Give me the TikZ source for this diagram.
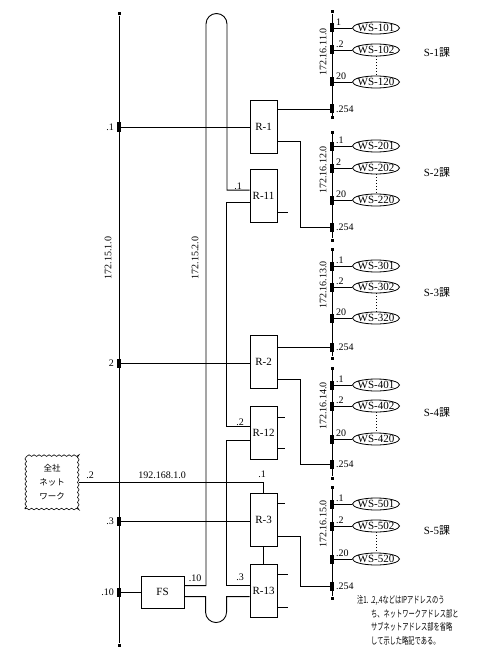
\documentclass[tikz,border=0pt]{standalone}
\usepackage{fontspec}
\setmainfont{Liberation Serif}
\newfontfamily\cjk{Noto Sans CJK JP}
\newfontfamily\cjknarrow[FakeStretch=0.65]{Noto Sans CJK JP}
\usetikzlibrary{decorations.pathmorphing,calc,shapes.geometric}
\begin{document}
\begin{tikzpicture}[x=1pt,y=1pt,
  line/.style={line width=0.9pt},
  router/.style={draw,line width=0.9pt,minimum width=27pt,minimum height=53pt,inner sep=0pt,font=\fontsize{11}{11}\selectfont},
  ws/.style={draw,ellipse,line width=0.8pt,minimum width=47pt,minimum height=12pt,inner xsep=-4pt,inner ysep=0pt,font=\fontsize{11}{11}\selectfont},
  tapm/.style={fill=black,draw=none,minimum width=3.5pt,minimum height=9pt,inner sep=0pt},
  endm/.style={fill=black,draw=none,minimum size=3pt,inner sep=0pt},
  lbl/.style={font=\fontsize{10}{10}\selectfont,inner sep=1pt},
  notetext/.style={anchor=west,inner sep=0pt,font=\cjknarrow\fontsize{9.6}{10}\selectfont},
]
\useasboundingbox (0,0) rectangle (500,-658);

% main bus 172.15.1.0
\node[endm] (mtop) at (119,-14) {};
\node[endm] (mbot) at (119,-645) {};
\draw[line] (mtop) -- (mbot);
\node[tapm] (m1) at (119,-127) {};
\node[tapm] (m2) at (119,-363) {};
\node[tapm] (m3) at (119,-521) {};
\node[tapm] (m10) at (119,-592) {};
\node[lbl,anchor=east] (lm1) at (115,-127) {.1};
\node[lbl,anchor=east] (lm2) at (115,-363) {2};
\node[lbl,anchor=east] (lm3) at (115,-521) {.3};
\node[lbl,anchor=east] (lm10) at (115,-592) {.10};
\node[lbl,rotate=90] (lmain) at (108,-258) {172.15.1.0};
\node[lbl,rotate=90] (lloop) at (195,-258) {172.15.2.0};

% routers and FS
\node[router] (R1) at (263.5,-126.5) {R-1};
\node[router] (R11) at (263.5,-196) {R-11};
\node[router] (R2) at (263.5,-362) {R-2};
\node[router] (R12) at (263.5,-433) {R-12};
\node[router] (R3) at (263.5,-520) {R-3};
\node[router] (R13) at (263.5,-590.5) {R-13};
\node[draw,line width=0.9pt,minimum width=43pt,minimum height=32pt,inner sep=0pt,font=\fontsize{11}{11}\selectfont] (FS) at (162.5,-592) {FS};
\node[draw,line width=0.6pt,decorate,decoration={snake,segment length=5pt,amplitude=0.8pt},
  minimum width=54pt,minimum height=53pt,align=center,inner sep=0pt,
  font=\cjk\fontsize{8.5}{14}\selectfont] (NET) at (52,-482.5) {全社\\ネット\\ワーク};

% subnets
\foreach \i/\tp/\ta/\tb/\tc/\td/\bt/\la/\lb/\lc/\vy/\sy in {
 1/12/28/50/82/109/118/1/.2/20/52/53,
 2/132/146/168/200/227/240/.1/2/20/170/173,
 3/249/266/287/318/347/358/.1/.2/20/285/293,
 4/368/385/406/439/464/478/.1/.2/20/406/413,
 5/487/504/526/559/586/598/.1/.2/.20/524/531}{
  \node[endm] (s\i top) at (332,-\tp) {};
  \node[endm] (s\i bot) at (332,-\bt) {};
  \draw[line] (s\i top) -- (s\i bot);
  \node[tapm] (s\i ta) at (332,-\ta) {};
  \node[tapm] (s\i tb) at (332,-\tb) {};
  \node[tapm] (s\i tc) at (332,-\tc) {};
  \node[tapm] (s\i td) at (332,-\td) {};
  \node[ws] (w\i a) at (376,-\ta) {WS-\i01};
  \node[ws] (w\i b) at (376,-\tb) {WS-\i02};
  \node[ws] (w\i c) at (376,-\tc) {WS-\i20};
  \draw[line] (s\i ta) -- (w\i a);
  \draw[line] (s\i tb) -- (w\i b);
  \draw[line] (s\i tc) -- (w\i c);
  \draw[line width=0.9pt,dotted] (w\i b.south) -- (w\i c.north);
  \node[lbl,anchor=south west] (l\i a) at (335,-\ta+1) {\la};
  \node[lbl,anchor=south west] (l\i b) at (335,-\tb+1) {\lb};
  \node[lbl,anchor=south west] (l\i c) at (335,-\tc+1) {\lc};
  \node[lbl,anchor=west] (l\i d) at (335,-\td) {.254};
  \node[lbl,rotate=90,font=\fontsize{10}{10}\selectfont] (v\i) at (323,-\vy) {172.16.1\i.0};
  \node[font=\fontsize{11}{11}\selectfont,inner sep=0pt] (S\i) at (437,-\sy) {S-\i{\cjk 課}};
}

% main bus to routers
\draw[line] (m1) -- (R1.west |- m1);
\draw[line] (m2) -- (R2.west |- m2);
\draw[line] (m3) -- (R3.west |- m3);
\draw[line] (m10) -- (FS.west);

% routers to subnets
\draw[line] (R1.east |- s1td) -- (s1td);
\draw[line] ($(R1.north east)+(0,-42)$) -- ++(23,0) |- (s2td);
\draw[line] (R2.east |- s3td) -- (s3td);
\draw[line] ($(R2.north east)+(0,-44)$) -- ++(23,0) |- (s4td);
\draw[line] ($(R3.north east)+(0,-43)$) -- ++(23,0) |- (s5td);

% 192.168.1.0
\draw[line] (NET.east) -| (R3.north);
\node[lbl] (lnet2) at (90,-475) {.2};
\node[lbl] (lnetr) at (262,-474) {.1};
\node[lbl] (lnetn) at (162,-475) {192.168.1.0};
\draw[line] (R3.south) -- (R13.north);

% loop bus 172.15.2.0
\draw[line] ($(FS.north east)+(0,-10)$) -| (206,-24) arc[start angle=180,end angle=0,radius=10.5pt]
  |- ($(R11.north west)+(0,-21)$);
\draw[line] ($(R11.north west)+(0,-33)$) -- ++(-23,0) |- ($(R12.north west)+(0,-20)$);
\draw[line] ($(R12.north west)+(0,-34)$) -- ++(-23,0) |- ($(R13.north west)+(0,-22)$);
\draw[line] ($(R13.north west)+(0,-33)$) -- ++(-23,0) -- ++(0,-15.5)
  arc[start angle=0,end angle=-180,radius=10.5pt] |- ($(FS.north east)+(0,-21)$);
\node[lbl] (lr11) at (238,-186) {.1};
\node[lbl] (lr12) at (240,-422) {.2};
\node[lbl] (lr13) at (240,-577) {.3};
\node[lbl] (lfs) at (195,-578) {.10};

% stubs
\coordinate (st11) at (288,-212);
\coordinate (st12a) at (285,-417);
\coordinate (st12b) at (285,-448);
\coordinate (st3) at (285,-503);
\coordinate (st13a) at (288,-574);
\coordinate (st13b) at (288,-607);
\draw[line] (R11.east |- st11) -- (st11);
\draw[line] (R12.east |- st12a) -- (st12a);
\draw[line] (R12.east |- st12b) -- (st12b);
\draw[line] (R3.east |- st3) -- (st3);
\draw[line] (R13.east |- st13a) -- (st13a);
\draw[line] (R13.east |- st13b) -- (st13b);

% note
\node[notetext] (n1) at (357,-600) {注1. .2,.4などはIPアドレスのう};
\node[notetext] (n2) at (371,-613.5) {ち、ネットワークアドレス部と};
\node[notetext] (n3) at (371,-627) {サブネットアドレス部を省略};
\node[notetext] (n4) at (371,-640.5) {して示した略記である。};
\end{tikzpicture}
\end{document}
